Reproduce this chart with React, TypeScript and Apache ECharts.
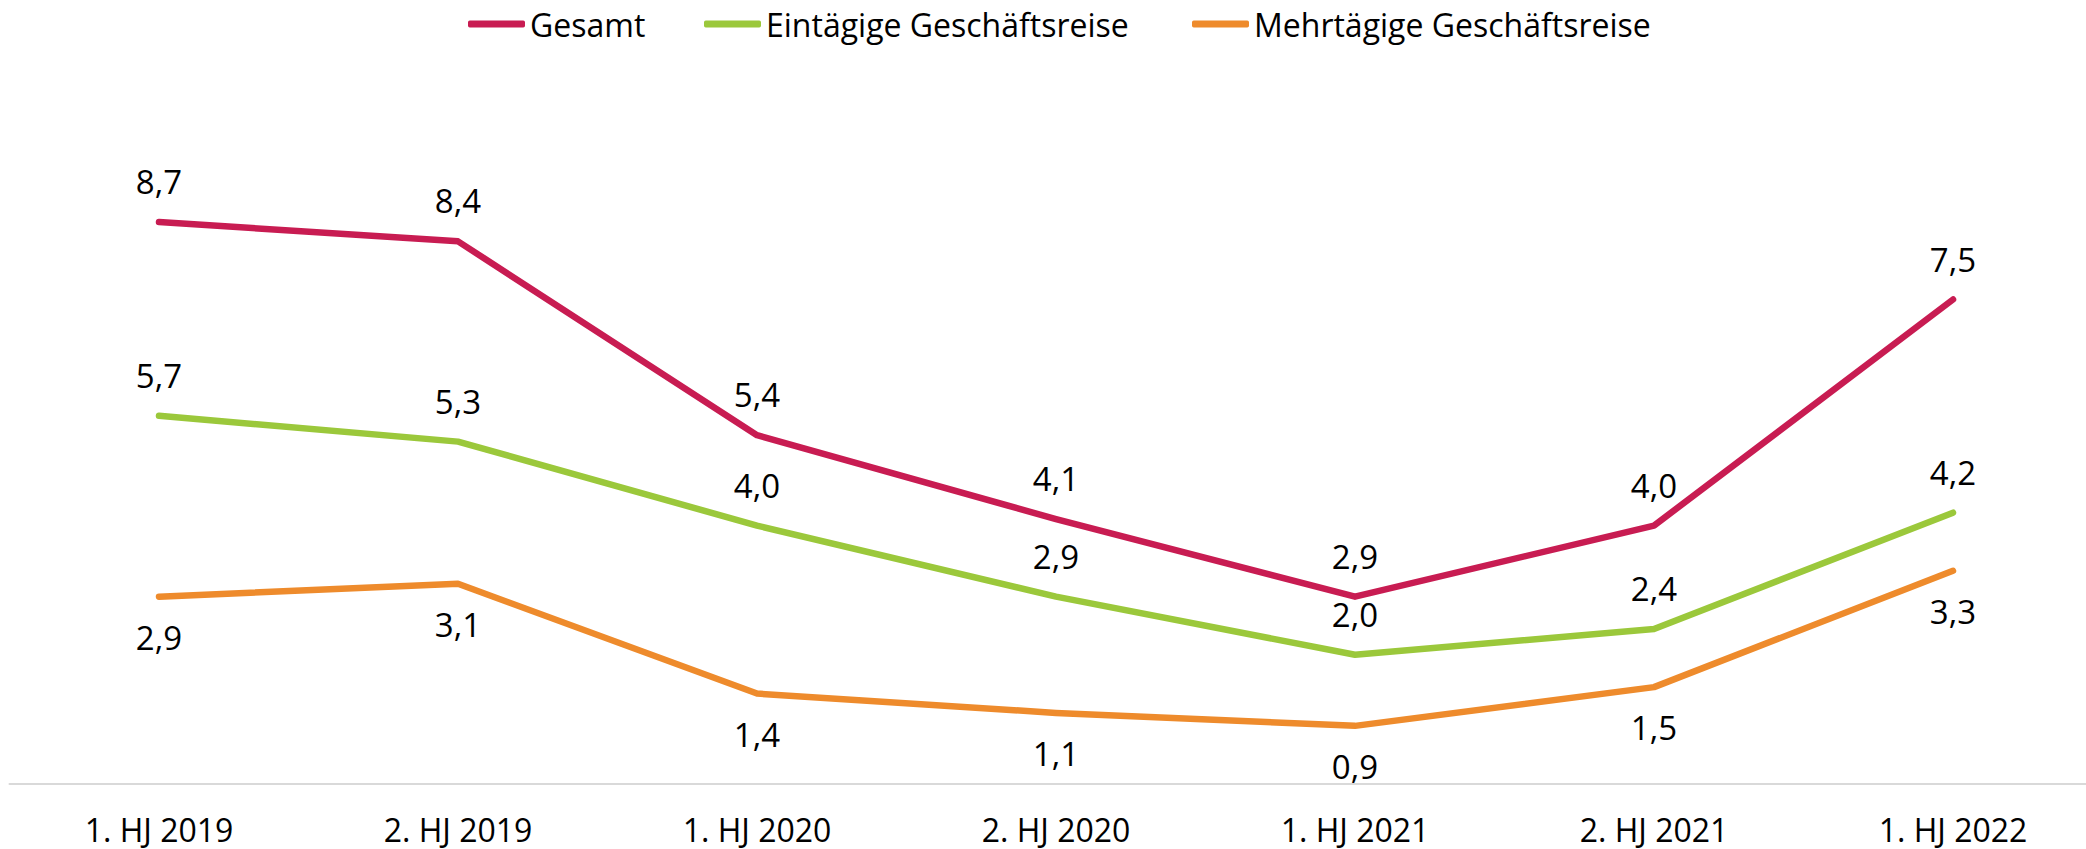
import React, { useEffect, useRef } from "react";
import * as echarts from "echarts";

const categories = ["1. HJ 2019", "2. HJ 2019", "1. HJ 2020", "2. HJ 2020", "1. HJ 2021", "2. HJ 2021", "1. HJ 2022"];
const seriesNames = ["Gesamt", "Eintägige Geschäftsreise", "Mehrtägige Geschäftsreise"];
const gesamt = [8.7, 8.4, 5.4, 4.1, 2.9, 4.0, 7.5];
const eintaegig = [5.7, 5.3, 4.0, 2.9, 2.0, 2.4, 4.2];
const mehrtaegig = [2.9, 3.1, 1.4, 1.1, 0.9, 1.5, 3.3];

const colors = ["#C81C52", "#9BC83B", "#EE8B2C"];
const legendLefts = [468, 704, 1192];
const FONT = "'Open Sans', sans-serif";

export default function App() {
  const ref = useRef<HTMLDivElement>(null);
  useEffect(() => {
    if (!ref.current) return;
    const chart = echarts.init(ref.current, undefined, { renderer: "svg" });
    const fmt = (p: any) => Number(p.value).toFixed(1).replace(".", ",");
    const mk = (name: string, data: number[], color: string, pos: "top" | "bottom") => ({
      name,
      type: "line",
      data,
      symbol: "circle",
      symbolSize: 2,
      showSymbol: true,
      itemStyle: { color },
      lineStyle: { color, width: 6.5, cap: "round", join: "round" },
      label: {
        show: true,
        position: pos,
        distance: 23,
        formatter: fmt,
        color: "#000",
        fontFamily: FONT,
        fontSize: 33,
        lineHeight: 33,
      },
      emphasis: { disabled: true },
    });
    chart.setOption({
      animation: false,
      backgroundColor: "#fff",
      legend: seriesNames.map((n, i) => ({
        show: true,
        left: legendLefts[i],
        top: 4,
        padding: 0,
        itemWidth: 57,
        itemHeight: 7,
        icon: "roundRect",
        textStyle: { fontFamily: FONT, fontSize: 32, color: "#000", lineHeight: 40 },
        data: [n],
      })),
      grid: {
        left: 9.5,
        top: 138,
        width: 2093,
        height: 646,
        containLabel: false,
        outerBoundsMode: "none",
      },
      xAxis: {
        type: "category",
        data: categories,
        boundaryGap: true,
        axisLine: { show: true, lineStyle: { color: "#D9D9D9", width: 2 } },
        axisTick: { show: false },
        axisLabel: { fontFamily: FONT, fontSize: 32, color: "#000", margin: 32, lineHeight: 26, interval: 0 },
        splitLine: { show: false },
      },
      yAxis: { type: "value", min: 0, max: 10, show: false, splitLine: { show: false } },
      series: [
        mk(seriesNames[0], gesamt, colors[0], "top"),
        mk(seriesNames[1], eintaegig, colors[1], "top"),
        mk(seriesNames[2], mehrtaegig, colors[2], "bottom"),
      ],
    });
    return () => chart.dispose();
  }, []);
  return (
    <div
      ref={ref}
      style={{ position: "absolute", left: 0, top: 0, width: 2086, height: 849, overflow: "hidden" }}
    />
  );
}
